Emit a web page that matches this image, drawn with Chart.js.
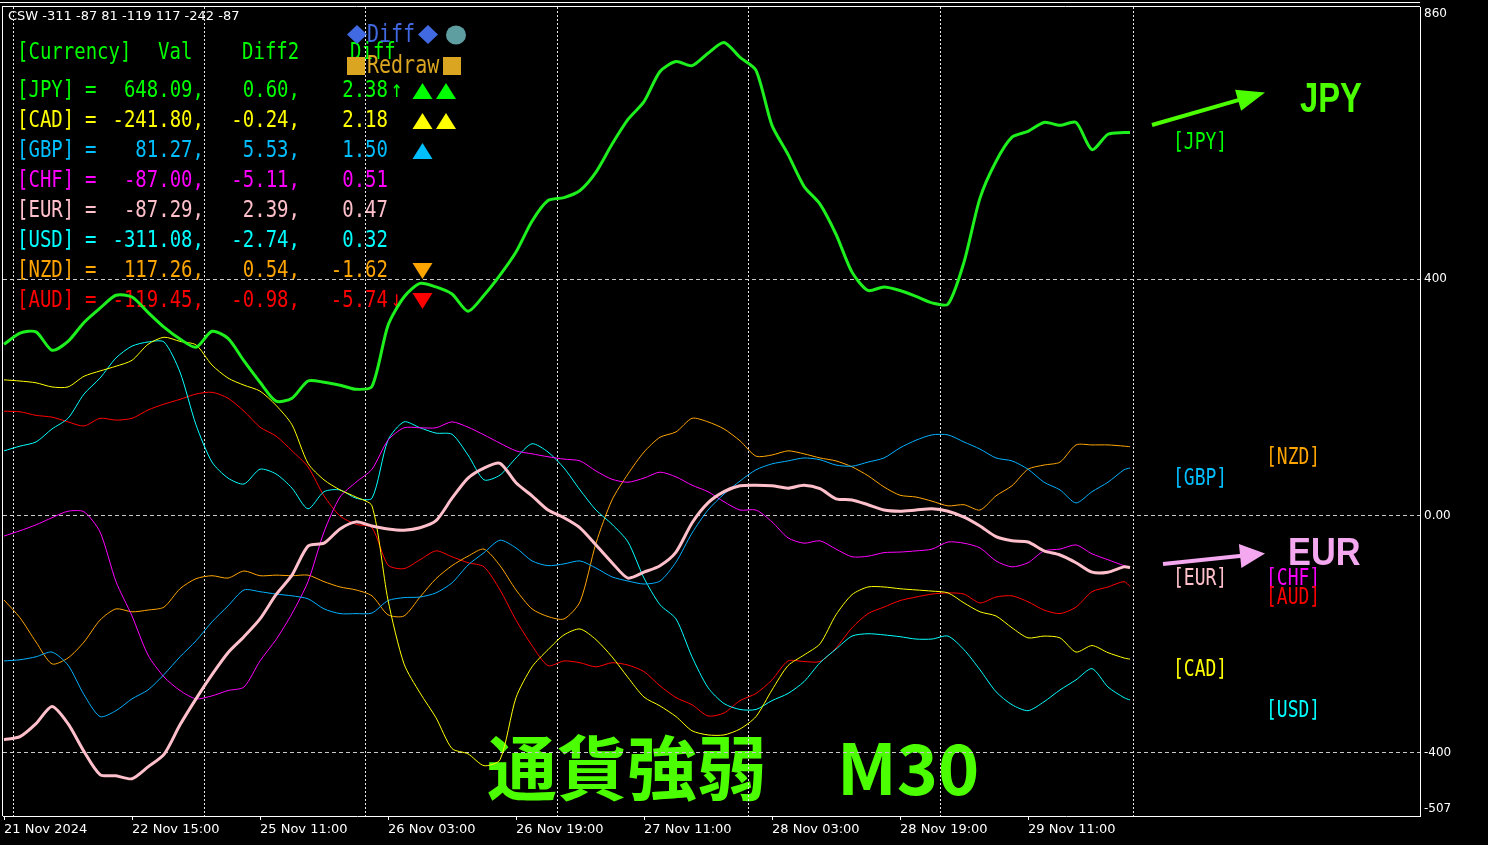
<!DOCTYPE html>
<html>
<head>
<meta charset="utf-8">
<script src="https://cdn.jsdelivr.net/npm/chart.js@4/dist/chart.umd.min.js"></script>
<style>
  html, body { margin: 0; padding: 0; background: #000; }
  #wrap { width: 1488px; height: 845px; }
</style>
</head>
<body>
<div id="wrap"><canvas id="myChart"></canvas></div>
<script>
// bar index of every sample (M30 bars, 4 bars apart)
const bars = [0,4,8,12,16,20,24,28,32,36,40,44,48,52,56,60,64,68,72,76,80,84,88,92,96,100,104,108,112,116,120,124,128,132,136,140,144,148,152,156,160,164,168,172,176,180,184,188,192,196,200,204,208,212,216,220,224,228,232,236,240,244,248,252,256,260,264,268,272,276,280,281.5];

const jpy = [290,309,311,280,295,327,351,373,370,344,319,299,285,312,300,262,226,194,199,228,226,221,214,219,322,370,393,387,375,346,373,407,446,498,533,538,550,581,628,670,700,751,768,761,782,800,775,753,660,611,557,527,476,412,381,387,381,371,360,358,429,537,599,640,650,665,660,665,619,645,648,648];
const eur = [-378,-373,-351,-322,-351,-398,-437,-439,-444,-424,-403,-353,-309,-268,-231,-204,-174,-133,-100,-51,-46,-22,-10,-17,-22,-24,-20,-8,30,64,81,89,56,34,10,-3,-20,-49,-79,-105,-95,-84,-61,-12,22,41,51,52,51,47,52,46,29,27,19,10,8,10,12,8,-2,-17,-35,-42,-44,-59,-66,-79,-95,-95,-86,-87];
const cad = [230,228,225,218,218,236,245,253,263,290,302,295,289,255,233,221,211,187,154,89,61,44,32,17,-142,-250,-299,-341,-393,-402,-422,-412,-307,-255,-226,-201,-191,-209,-238,-273,-306,-321,-339,-363,-370,-370,-360,-339,-294,-253,-235,-216,-167,-133,-120,-120,-123,-125,-127,-130,-147,-162,-169,-189,-206,-203,-206,-230,-219,-231,-240,-242];
const usd = [110,118,125,147,165,206,233,267,287,294,294,243,154,91,64,54,79,71,47,12,41,44,30,30,128,159,149,140,138,103,61,69,98,122,108,81,44,10,-14,-44,-105,-150,-174,-238,-290,-317,-327,-327,-312,-300,-280,-248,-225,-203,-199,-201,-204,-208,-208,-203,-226,-260,-297,-319,-329,-314,-294,-277,-258,-289,-307,-311];
const gbp = [-245,-243,-238,-230,-252,-302,-339,-329,-309,-294,-268,-238,-211,-179,-152,-125,-128,-132,-135,-140,-157,-165,-165,-164,-143,-138,-137,-130,-113,-83,-62,-41,-54,-76,-84,-81,-76,-88,-103,-110,-115,-110,-78,-29,10,37,59,78,88,93,98,95,86,84,91,98,115,128,137,137,125,113,98,93,79,57,44,22,41,57,78,81];
const chf = [-34,-25,-15,-3,8,7,-27,-111,-169,-235,-272,-295,-309,-304,-295,-289,-245,-209,-165,-111,-27,32,57,79,128,149,149,149,159,150,137,123,110,105,100,96,93,76,62,57,64,74,66,52,41,24,10,10,-10,-37,-46,-42,-56,-69,-68,-62,-61,-59,-56,-44,-46,-54,-76,-86,-79,-59,-56,-49,-64,-74,-84,-87];
const nzd = [-142,-172,-213,-250,-240,-213,-176,-157,-162,-159,-154,-123,-106,-101,-105,-93,-101,-100,-101,-100,-111,-120,-125,-135,-167,-169,-137,-106,-84,-68,-56,-84,-125,-157,-170,-174,-145,-46,27,71,108,133,142,165,159,147,127,101,103,110,105,98,93,83,68,49,35,32,25,17,19,10,34,51,79,86,91,120,120,120,118,117];
const aud = [177,176,170,167,159,152,165,162,165,179,189,197,206,209,199,177,150,135,110,83,34,0,-14,-20,-83,-89,-74,-59,-69,-79,-86,-125,-176,-219,-253,-245,-248,-255,-248,-252,-263,-287,-307,-319,-338,-333,-312,-300,-277,-245,-246,-246,-223,-189,-165,-154,-143,-137,-132,-130,-132,-147,-137,-135,-145,-159,-165,-154,-128,-120,-111,-119];

// axes
const xTickBars = [0,32,64,96,128,160,192,224,256];
const xTickLabels = ['21 Nov 2024','22 Nov 15:00','25 Nov 11:00','26 Nov 03:00','26 Nov 19:00','27 Nov 11:00','28 Nov 03:00','28 Nov 19:00','29 Nov 11:00'];
const yTicks = [-507,-400,0,400,860];
const yGridVals = [-400,0,400];
const daySeparators = [2.25,50,90.25,138.25,186,234,282.25];

// text panel
const titleText = 'CSW -311 -87 81 -119 117 -242 -87';
const tableNames = ['[JPY]','[CAD]','[GBP]','[CHF]','[EUR]','[USD]','[NZD]','[AUD]'];
const tableVal = ['648.09,','-241.80,','81.27,','-87.00,','-87.29,','-311.08,','117.26,','-119.45,'];
const tableDiff2 = ['0.60,','-0.24,','5.53,','-5.11,','2.39,','-2.74,','0.54,','-0.98,'];
const tableDiff = ['2.38','2.18','1.50','0.51','0.47','0.32','-1.62','-5.74'];
const tableArrows = ['↑','','','','','','','↓'];
const tableMarks = [['up','up'],['up','up'],['up'],[],[],[],['down'],['down']];
const tableColors = ['#00FF00','#FFFF00','#00BFFF','#FF00FF','#FFC0CB','#00FFFF','#FFA500','#FF0000'];

const C = {
  jpy: '#1EF01E', cad: '#FFFF00', gbp: '#00B0FF', chf: '#FF00FF',
  eur: '#FFC0CB', usd: '#00FFFF', nzd: '#FFA500', aud: '#FF0000'
};
const bigGreen = '#4CFF00';
const bigViolet = '#F4A8F0';

function pts(arr) { return arr.map((v, i) => ({ x: bars[i], y: v })); }

function monoText(ctx, s, x, y, color, align, size) {
  ctx.save();
  ctx.translate(x, y);
  ctx.scale(1, 1.25);
  ctx.font = (size || 19) + 'px "DejaVu Sans Mono"';
  ctx.textAlign = align || 'left';
  ctx.textBaseline = 'middle';
  ctx.fillStyle = color;
  ctx.fillText(s, 0, 0);
  ctx.restore();
}

function tri(ctx, cx, cy, dir, color) {
  ctx.fillStyle = color;
  ctx.beginPath();
  if (dir === 'up') {
    ctx.moveTo(cx, cy - 8); ctx.lineTo(cx + 10, cy + 8); ctx.lineTo(cx - 10, cy + 8);
  } else {
    ctx.moveTo(cx - 10, cy - 8); ctx.lineTo(cx + 10, cy - 8); ctx.lineTo(cx, cy + 8);
  }
  ctx.closePath();
  ctx.fill();
}

function arrow(ctx, x1, y1, x2, y2, color, headLen, headW) {
  const dx = x2 - x1, dy = y2 - y1, len = Math.hypot(dx, dy);
  const ux = dx / len, uy = dy / len, nx = -uy, ny = ux;
  const bx = x2 - ux * headLen, by = y2 - uy * headLen;
  ctx.strokeStyle = color;
  ctx.lineWidth = 4;
  ctx.beginPath(); ctx.moveTo(x1, y1); ctx.lineTo(bx + ux * 2, by + uy * 2); ctx.stroke();
  ctx.fillStyle = color;
  ctx.beginPath();
  ctx.moveTo(x2, y2);
  ctx.lineTo(bx + nx * headW, by + ny * headW);
  ctx.lineTo(bx - nx * headW, by - ny * headW);
  ctx.closePath();
  ctx.fill();
}

function squashText(ctx, s, x, y, font, color, sx) {
  ctx.save();
  ctx.translate(x, y);
  ctx.scale(sx, 1);
  ctx.font = font;
  ctx.fillStyle = color;
  ctx.textAlign = 'left';
  ctx.textBaseline = 'alphabetic';
  ctx.fillText(s, 0, 0);
  ctx.restore();
}

const overlay = {
  id: 'overlay',
  beforeDraw(chart) {
    const ctx = chart.ctx;
    ctx.save();
    ctx.fillStyle = '#000';
    ctx.fillRect(0, 0, chart.width, chart.height);

    // indicator name
    ctx.fillStyle = '#fff';
    ctx.font = '13px "DejaVu Sans"';
    ctx.textBaseline = 'middle';
    ctx.fillText(titleText, 8, 17);

    // big captions
    ctx.font = 'bold 70px "Noto Sans CJK JP"';
    ctx.fillStyle = bigGreen;
    ctx.textBaseline = 'alphabetic';
    ctx.fillText('通貨強弱　M30', 487, 795);
    squashText(ctx, 'JPY', 1300, 112, 'bold 42px "Liberation Sans"', bigGreen, 0.78);
    squashText(ctx, 'EUR', 1288, 565, 'bold 39px "Liberation Sans"', bigViolet, 0.88);
    arrow(ctx, 1152, 125, 1265, 92.5, bigGreen, 28, 11);
    arrow(ctx, 1163, 564, 1265, 553.5, bigViolet, 25, 12);

    // table header
    monoText(ctx, '[Currency]', 17, 53, '#00FF00');
    monoText(ctx, 'Val', 158, 53, '#00FF00');
    monoText(ctx, 'Diff2', 242, 53, '#00FF00');
    monoText(ctx, 'Diff', 350, 53, '#00FF00');

    // ◆Diff◆ ●
    ctx.fillStyle = '#4169E1';
    [357, 428].forEach(cx => {
      ctx.beginPath();
      ctx.moveTo(cx, 25); ctx.lineTo(cx + 10, 34.5); ctx.lineTo(cx, 44); ctx.lineTo(cx - 10, 34.5);
      ctx.closePath(); ctx.fill();
    });
    monoText(ctx, 'Diff', 367, 35, '#4169E1', 'left', 20);
    ctx.fillStyle = '#5F9EA0';
    ctx.beginPath(); ctx.ellipse(456, 35, 10, 9.5, 0, 0, Math.PI * 2); ctx.fill();
    // ■Redraw■
    ctx.fillStyle = '#DAA520';
    ctx.fillRect(347, 57, 18, 18);
    ctx.fillRect(443, 57, 18, 18);
    monoText(ctx, 'Redraw', 367, 66, '#DAA520', 'left', 20);

    // table rows
    tableNames.forEach((name, i) => {
      const y = 91 + 30 * i, col = tableColors[i];
      monoText(ctx, name, 17, y, col);
      monoText(ctx, '=', 85, y, col);
      monoText(ctx, tableVal[i], 204, y, col, 'right');
      monoText(ctx, tableDiff2[i], 300, y, col, 'right');
      monoText(ctx, tableDiff[i], 388, y, col, 'right');
      if (tableArrows[i]) monoText(ctx, tableArrows[i], 391, y, col);
      tableMarks[i].forEach((m, k) => tri(ctx, 422.5 + 23.5 * k, y, m, col));
    });

    // right side labels
    monoText(ctx, '[JPY]', 1173, 143, '#00FF00', 'left', 18);
    monoText(ctx, '[GBP]', 1173, 479, '#00BFFF', 'left', 18);
    monoText(ctx, '[NZD]', 1266, 458, '#FFA500', 'left', 18);
    monoText(ctx, '[EUR]', 1173, 579, '#FFC0CB', 'left', 18);
    monoText(ctx, '[CHF]', 1266, 579, '#FF00FF', 'left', 18);
    monoText(ctx, '[AUD]', 1266, 598, '#FF0000', 'left', 18);
    monoText(ctx, '[CAD]', 1173, 670, '#FFFF00', 'left', 18);
    monoText(ctx, '[USD]', 1266, 711, '#00FFFF', 'left', 18);
    ctx.restore();
  },
  beforeDatasetsDraw(chart) {
    const ctx = chart.ctx, xs = chart.scales.x, a = chart.chartArea;
    ctx.save();
    ctx.strokeStyle = '#e8e8e8';
    ctx.lineWidth = 1;
    ctx.setLineDash([2, 2]);
    daySeparators.forEach(b => {
      const px = Math.round(xs.getPixelForValue(b)) + 0.5;
      ctx.beginPath(); ctx.moveTo(px, a.top); ctx.lineTo(px, a.bottom); ctx.stroke();
    });
    ctx.restore();
  },
  afterDraw(chart) {
    const ctx = chart.ctx, a = chart.chartArea;
    ctx.save();
    ctx.strokeStyle = '#fff';
    ctx.lineWidth = 1;
    ctx.beginPath();
    ctx.moveTo(2.5, a.top); ctx.lineTo(2.5, a.bottom);
    ctx.moveTo(2, a.top - 0.5); ctx.lineTo(a.right, a.top - 0.5);
    ctx.moveTo(0, 2.5); ctx.lineTo(a.right, 2.5);
    ctx.stroke();
    ctx.restore();
  }
};

function ds(label, arr, color, width) {
  return {
    label, data: pts(arr), borderColor: color, backgroundColor: color,
    borderWidth: width, pointRadius: 0, tension: 0.25, fill: false
  };
}

new Chart(document.getElementById('myChart'), {
  type: 'line',
  data: {
    datasets: [
      ds('JPY', jpy, C.jpy, 3),
      ds('EUR', eur, C.eur, 3),
      ds('CAD', cad, C.cad, 1),
      ds('GBP', gbp, C.gbp, 1),
      ds('CHF', chf, C.chf, 1),
      ds('USD', usd, C.usd, 1),
      ds('NZD', nzd, C.nzd, 1),
      ds('AUD', aud, C.aud, 1)
    ]
  },
  options: {
    responsive: true,
    maintainAspectRatio: false,
    animation: false,
    devicePixelRatio: 1,
    layout: { padding: { left: 3, top: 7, right: 0, bottom: 0 } },
    plugins: { legend: { display: false }, tooltip: { enabled: false } },
    scales: {
      x: {
        type: 'linear',
        min: -0.25,
        max: 354,
        afterFit: s => { s.height = 29; s.paddingLeft = 0; s.paddingRight = 0; },
        afterBuildTicks: s => { s.ticks = xTickBars.map(v => ({ value: v })); },
        ticks: {
          autoSkip: false, maxRotation: 0, align: 'start', color: '#fff', padding: 2,
          font: { family: 'DejaVu Sans', size: 13 },
          callback: v => xTickLabels[xTickBars.indexOf(v)]
        },
        grid: { drawOnChartArea: false, drawTicks: true, tickLength: 4, color: '#fff' },
        border: { color: '#fff', width: 1 }
      },
      y: {
        position: 'right',
        min: -507,
        max: 860,
        afterFit: s => { s.width = 68; s.paddingTop = 0; s.paddingBottom = 0; },
        afterBuildTicks: s => { s.ticks = yTicks.map(v => ({ value: v })); },
        ticks: {
          autoSkip: false, color: '#fff', padding: 4,
          font: { family: 'DejaVu Sans', size: 12 },
          callback: v => {
            if (v === 860) return ['', '860'];
            if (v === -507) return ['-507', ''];
            return v === 0 ? '0.00' : String(v);
          }
        },
        grid: {
          drawTicks: false,
          color: c => (c.tick && yGridVals.includes(c.tick.value)) ? '#c8c8c8' : 'rgba(0,0,0,0)'
        },
        border: { color: '#fff', width: 1, dash: [4, 3] }
      }
    }
  },
  plugins: [overlay]
});
</script>
</body>
</html>
